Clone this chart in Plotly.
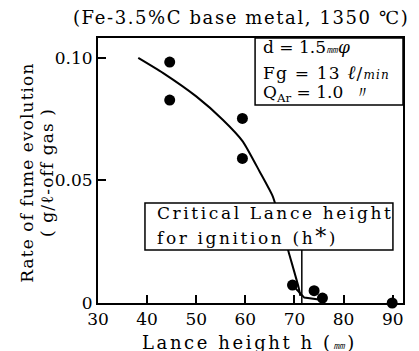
import plotly.graph_objects as go

# Observed points
h_obs = [44.6, 44.6, 59.4, 59.4, 69.6, 74.0, 75.7, 89.9]
rate_obs = [0.0982, 0.0827, 0.0752, 0.0589, 0.0073, 0.0050, 0.0020, 0.0]

# Fitted curve
curve_h = [38.2, 43.2, 50.0, 55.4, 59.5, 62.9, 65.6, 67.3, 68.8, 70.8, 71.2]
curve_rate = [0.0999, 0.0938, 0.0842, 0.0747, 0.0658, 0.0536, 0.0434, 0.0320, 0.0209, 0.0067, 0.0029]

# Short low segment
low_h = [69.6, 72.0, 75.7]
low_rate = [0.0073, 0.0022, 0.0012]

# Critical lance height
h_star = 71.5
h_star_top = 0.0216

x_ticks = [30, 40, 50, 60, 70, 80, 90]
y_ticks = [0, 0.05, 0.10]
y_tick_labels = ["0", "0.05", "0.10"]

SERIF = "DejaVu Serif"


def spaced(txt, px):
    return "<span style='letter-spacing:%.1fpx'>%s</span>" % (px, txt)


fig = go.Figure()
fig.add_trace(go.Scatter(x=curve_h, y=curve_rate, mode="lines",
                         line=dict(color="black", width=2, shape="spline", smoothing=0.5),
                         hoverinfo="skip"))
fig.add_trace(go.Scatter(x=low_h, y=low_rate, mode="lines",
                         line=dict(color="black", width=2), hoverinfo="skip"))
fig.add_trace(go.Scatter(x=[h_star, h_star], y=[0, h_star_top], mode="lines",
                         line=dict(color="black", width=1.5), hoverinfo="skip"))
fig.add_trace(go.Scatter(x=h_obs, y=rate_obs, mode="markers",
                         marker=dict(color="black", size=11), cliponaxis=False))

# page body has an 8px margin; the figure is sized so the plot lands where the reference has it
fig.update_layout(
    width=411, height=343,
    margin=dict(l=90, r=16, t=30, b=48),
    paper_bgcolor="white", plot_bgcolor="white",
    showlegend=False,
    xaxis=dict(range=[30, 92.1], tickvals=x_ticks, ticks="inside", ticklen=8, tickwidth=1.5,
               tickcolor="black", showline=True, linecolor="black", linewidth=2, mirror=True,
               showgrid=False, zeroline=False,
               tickfont=dict(family=SERIF, size=17, color="black")),
    yaxis=dict(range=[0, 0.108], tickvals=y_ticks, ticktext=y_tick_labels, ticks="inside",
               ticklen=8, tickwidth=1.5, tickcolor="black", showline=True, linecolor="black",
               linewidth=2, mirror=True, showgrid=False, zeroline=False,
               tickfont=dict(family=SERIF, size=17, color="black")),
    shapes=[
        dict(type="rect", xref="paper", yref="paper", x0=0.515, x1=1.0, y0=0.747, y1=1.0,
             line=dict(color="black", width=1.5), fillcolor="white", layer="above"),
        dict(type="rect", xref="paper", yref="paper", x0=0.154, x1=0.967, y0=0.200, y1=0.377,
             line=dict(color="black", width=1.5), fillcolor="white", layer="above"),
    ],
)

ann = []
ann.append(dict(text=spaced("(Fe-3.5%C base metal, 1350 ℃)", 1.6), xref="paper", yref="paper",
                x=0.47, y=1.079, showarrow=False, xanchor="center", yanchor="middle",
                font=dict(family=SERIF, size=18, color="black")))
ann.append(dict(text=spaced("Rate of fume evolution", 1.1), xref="paper", yref="paper",
                x=-0.233, y=0.491, textangle=-90, showarrow=False, xanchor="center", yanchor="middle",
                font=dict(family=SERIF, size=17, color="black")))
ann.append(dict(text=spaced("( g/ℓ-off gas )", 1.1), xref="paper", yref="paper",
                x=-0.167, y=0.491, textangle=-90, showarrow=False, xanchor="center", yanchor="middle",
                font=dict(family=SERIF, size=17, color="black")))
ann.append(dict(text=spaced("Lance height h (<span style='font-size:12px'><i>㎜</i></span>)", 2.6),
                xref="paper", yref="paper",
                x=0.498, y=-0.150, showarrow=False, xanchor="center", yanchor="middle",
                font=dict(family=SERIF, size=18, color="black")))
ann.append(dict(text="d = 1.5<span style='font-size:12px'><i>㎜</i></span><i>φ</i>", xref="paper", yref="paper",
                x=0.534, y=0.966, showarrow=False, xanchor="left", yanchor="middle",
                font=dict(family=SERIF, size=17, color="black")))
ann.append(dict(text=spaced("Fg = 13 <span style='font-size:19px'><i>ℓ</i></span>/<span style='font-size:12px'><i>min</i></span>", 1.2),
                xref="paper", yref="paper",
                x=0.534, y=0.872, showarrow=False, xanchor="left", yanchor="middle",
                font=dict(family=SERIF, size=17, color="black")))
ann.append(dict(text="Q<sub>Ar</sub> = 1.0  〃", xref="paper", yref="paper",
                x=0.534, y=0.792, showarrow=False, xanchor="left", yanchor="middle",
                font=dict(family=SERIF, size=17, color="black")))
ann.append(dict(text=spaced("Critical Lance height", 2.6), xref="paper", yref="paper",
                x=0.187, y=0.338, showarrow=False, xanchor="left", yanchor="middle",
                font=dict(family=SERIF, size=17, color="black")))
ann.append(dict(text=spaced("for ignition (h<span style='font-size:22px'>*</span>)", 2.6),
                xref="paper", yref="paper",
                x=0.187, y=0.251, showarrow=False, xanchor="left", yanchor="middle",
                font=dict(family=SERIF, size=17, color="black")))
fig.update_layout(annotations=ann)

fig.write_html("out.html")
